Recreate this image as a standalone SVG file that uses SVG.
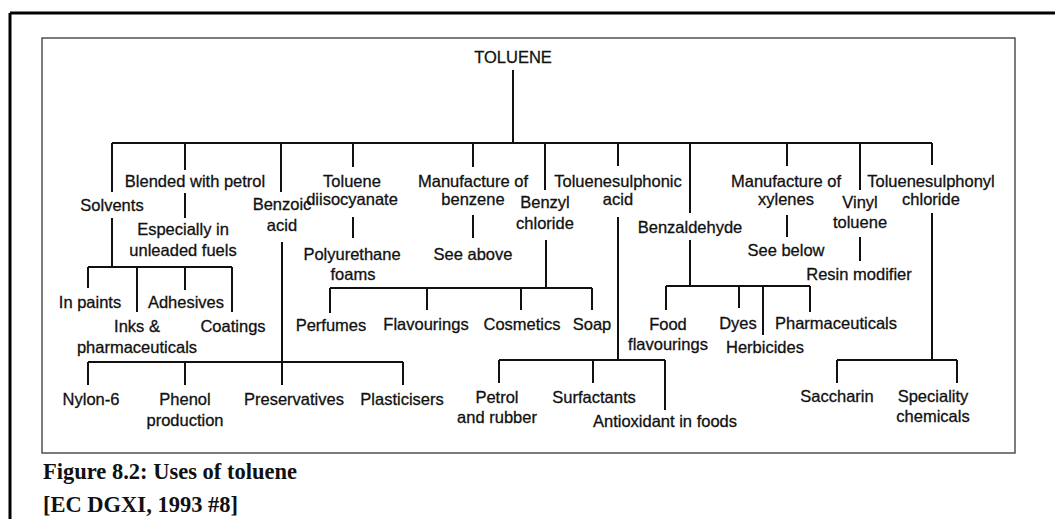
<svg xmlns="http://www.w3.org/2000/svg" width="1056" height="519" viewBox="0 0 1056 519">
<style>
.t{font-family:"Liberation Sans",Arial,sans-serif;font-size:16.5px;fill:#111;stroke:#111;stroke-width:0.3;text-anchor:middle}
.c{fill:none;stroke:#111;stroke-width:2}
.cap{font-family:"Liberation Serif","Times New Roman",serif;font-size:22.5px;font-weight:bold;fill:#111}
</style>
<rect width="1056" height="519" fill="#fff"/>
<path d="M10,13 H1055 M10,13 V519" fill="none" stroke="#000" stroke-width="3"/>
<rect x="42" y="38" width="973" height="415" fill="none" stroke="#444" stroke-width="1.4"/>
<g id="connectors" class="c">
<path d="M513,70 V143 M112,143 H932 M112,143 V192 M185,143 V170 M281,143 V192 M353,143 V167 M473,143 V167 M545,143 V190 M618,143 V166 M690,143 V213 M787,143 V166 M860,143 V190 M932,143 V165"/>
<path d="M112,218 V267 M88,267 H232 M88,267 V288 M137,267 V312 M185,267 V290 M232,267 V312"/>
<path d="M185,193 V218"/>
<path d="M282,242 V385 M88,362 H403 M88,362 V385 M185,362 V385 M403,362 V385"/>
<path d="M353,217 V238 M473,215 V238"/>
<path d="M546,240 V288 M330,288 H592 M330,288 V313 M427,288 V310 M521,288 V310 M592,288 V310"/>
<path d="M618,217 V360 M499,360 H665 M499,360 V383 M593,360 V383 M665,360 V410"/>
<path d="M690,240 V286 M666,286 H810 M666,286 V310 M739,286 V308 M763,286 V335 M810,286 V312"/>
<path d="M787,215 V237 M860,237 V261"/>
<path d="M932,213 V360 M837,360 H957 M837,360 V383 M957,360 V383"/>
</g>
<g id="toluene"><text class="t" x="513" y="63">TOLUENE</text></g>
<g id="solvents"><text class="t" x="112" y="211">Solvents</text></g>
<g id="blended"><text class="t" x="195" y="187">Blended with petrol</text></g>
<g id="unleaded"><text class="t" x="183" y="235">Especially in</text><text class="t" x="183" y="256">unleaded fuels</text></g>
<g id="benzoic"><text class="t" x="282" y="210">Benzoic</text><text class="t" x="282" y="231">acid</text></g>
<g id="tdi"><text class="t" x="352" y="187">Toluene</text><text class="t" x="352" y="205">diisocyanate</text></g>
<g id="benzene"><text class="t" x="473" y="187">Manufacture of</text><text class="t" x="473" y="205">benzene</text></g>
<g id="benzyl"><text class="t" x="545" y="208">Benzyl</text><text class="t" x="545" y="229">chloride</text></g>
<g id="tsa"><text class="t" x="618" y="187">Toluenesulphonic</text><text class="t" x="618" y="205">acid</text></g>
<g id="benzaldehyde"><text class="t" x="690" y="233">Benzaldehyde</text></g>
<g id="xylenes"><text class="t" x="786" y="187">Manufacture of</text><text class="t" x="786" y="205">xylenes</text></g>
<g id="vinyl"><text class="t" x="860" y="208">Vinyl</text><text class="t" x="860" y="228">toluene</text></g>
<g id="tscl"><text class="t" x="931" y="187">Toluenesulphonyl</text><text class="t" x="931" y="205">chloride</text></g>
<g id="paints"><text class="t" x="90" y="308">In paints</text></g>
<g id="adhesives"><text class="t" x="186" y="308">Adhesives</text></g>
<g id="inks"><text class="t" x="137" y="332">Inks &amp;</text><text class="t" x="137" y="353">pharmaceuticals</text></g>
<g id="coatings"><text class="t" x="233" y="332">Coatings</text></g>
<g id="polyurethane"><text class="t" x="352" y="260">Polyurethane</text><text class="t" x="353" y="280">foams</text></g>
<g id="seeabove"><text class="t" x="473" y="260">See above</text></g>
<g id="perfumes"><text class="t" x="331" y="331">Perfumes</text></g>
<g id="flavourings"><text class="t" x="426" y="330">Flavourings</text></g>
<g id="cosmetics"><text class="t" x="522" y="330">Cosmetics</text></g>
<g id="soap"><text class="t" x="592" y="330">Soap</text></g>
<g id="food"><text class="t" x="668" y="330">Food</text><text class="t" x="668" y="350">flavourings</text></g>
<g id="dyes"><text class="t" x="738" y="329">Dyes</text></g>
<g id="herbicides"><text class="t" x="765" y="353">Herbicides</text></g>
<g id="pharma"><text class="t" x="836" y="329">Pharmaceuticals</text></g>
<g id="seebelow"><text class="t" x="786" y="256">See below</text></g>
<g id="resin"><text class="t" x="859" y="280">Resin modifier</text></g>
<g id="nylon"><text class="t" x="91" y="405">Nylon-6</text></g>
<g id="phenol"><text class="t" x="185" y="405">Phenol</text><text class="t" x="185" y="426">production</text></g>
<g id="preservatives"><text class="t" x="294" y="405">Preservatives</text></g>
<g id="plasticisers"><text class="t" x="402" y="405">Plasticisers</text></g>
<g id="petrol"><text class="t" x="497" y="403">Petrol</text><text class="t" x="497" y="423">and rubber</text></g>
<g id="surfactants"><text class="t" x="594" y="403">Surfactants</text></g>
<g id="antioxidant"><text class="t" x="665" y="427">Antioxidant in foods</text></g>
<g id="saccharin"><text class="t" x="837" y="402">Saccharin</text></g>
<g id="speciality"><text class="t" x="933" y="402">Speciality</text><text class="t" x="933" y="422">chemicals</text></g>
<g id="caption"><text class="cap" x="43" y="479">Figure 8.2: Uses of toluene</text><text class="cap" x="43" y="512">[EC DGXI, 1993 #8]</text></g>
</svg>
